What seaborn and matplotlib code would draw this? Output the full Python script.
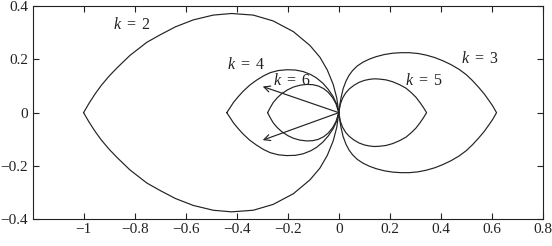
import matplotlib
matplotlib.use("Agg")
import matplotlib.pyplot as plt
import seaborn as sns
import pandas as pd

# Upper halves of the closed curves (curves are symmetric about y = 0)
k2_x = [-1.0, -0.978, -0.955, -0.930, -0.900, -0.870, -0.818, -0.752, -0.700, -0.640, -0.570,
        -0.492, -0.420, -0.335, -0.257, -0.178, -0.113, -0.074, -0.045, -0.022, -0.008, 0.0]
k2_y = [0.0, 0.036, 0.070, 0.103, 0.137, 0.167, 0.215, 0.264, 0.292, 0.322, 0.348,
        0.366, 0.372, 0.366, 0.344, 0.304, 0.252, 0.208, 0.160, 0.106, 0.055, 0.0]

k3_x = [0.0, 0.004, 0.009, 0.017, 0.028, 0.040, 0.054, 0.072, 0.094, 0.120, 0.146,
        0.178, 0.211, 0.243, 0.276, 0.310, 0.342, 0.375, 0.407, 0.440, 0.472, 0.500,
        0.524, 0.548, 0.570, 0.588, 0.603, 0.618]
k3_y = [0.0, 0.030, 0.057, 0.090, 0.118, 0.140, 0.158, 0.175, 0.189, 0.201, 0.210,
        0.218, 0.223, 0.225, 0.225, 0.222, 0.216, 0.207, 0.195, 0.180, 0.162, 0.142,
        0.120, 0.095, 0.070, 0.046, 0.025, 0.0]

k4_x = [-0.439, -0.425, -0.413, -0.394, -0.374, -0.348, -0.322, -0.295, -0.269, -0.237,
        -0.204, -0.170, -0.139, -0.110, -0.087, -0.062, -0.041, -0.022, -0.008, 0.0]
k4_y = [0.0, 0.020, 0.038, 0.060, 0.081, 0.104, 0.122, 0.138, 0.150, 0.158,
        0.161, 0.160, 0.154, 0.143, 0.130, 0.110, 0.087, 0.060, 0.031, 0.0]

k5_x = [0.0, 0.006, 0.015, 0.027, 0.041, 0.060, 0.080, 0.100, 0.120, 0.140, 0.159,
        0.185, 0.211, 0.238, 0.263, 0.284, 0.302, 0.318, 0.331, 0.344]
k5_y = [0.0, 0.032, 0.055, 0.074, 0.089, 0.103, 0.114, 0.121, 0.125, 0.127, 0.126,
        0.123, 0.116, 0.105, 0.092, 0.075, 0.058, 0.038, 0.020, 0.0]

k6_x = [-0.279, -0.268, -0.257, -0.241, -0.224, -0.200, -0.178, -0.152, -0.126, -0.102,
        -0.080, -0.059, -0.041, -0.024, -0.011, 0.0]
k6_y = [0.0, 0.020, 0.038, 0.056, 0.071, 0.086, 0.096, 0.103, 0.106, 0.105,
        0.100, 0.090, 0.076, 0.056, 0.033, 0.0]

curves = {"2": (k2_x, k2_y), "3": (k3_x, k3_y), "4": (k4_x, k4_y),
          "5": (k5_x, k5_y), "6": (k6_x, k6_y)}

label_k = ["2", "4", "6", "3", "5"]
label_x = [-0.886, -0.439, -0.259, 0.479, 0.260]
label_y = [0.328, 0.178, 0.119, 0.200, 0.117]

arrow_tip_x = [-0.298, -0.298]
arrow_tip_y = [0.098, -0.103]

x_ticks = [-1, -0.8, -0.6, -0.4, -0.2, 0, 0.2, 0.4, 0.6, 0.8]
x_ticklabels = ["\u22121", "\u22120.8", "\u22120.6", "\u22120.4", "\u22120.2", "0", "0.2", "0.4", "0.6", "0.8"]
y_ticks = [-0.4, -0.2, 0, 0.2, 0.4]
y_ticklabels = ["\u22120.4", "\u22120.2", "0", "0.2", "0.4"]

sns.set_style("ticks")
plt.rcParams["font.family"] = ["Liberation Serif", "DejaVu Serif"]
plt.rcParams["mathtext.fontset"] = "custom"
plt.rcParams["mathtext.rm"] = "Liberation Serif"
plt.rcParams["mathtext.it"] = "Liberation Serif:italic"

fig = plt.figure(figsize=(5.52, 2.46), dpi=100)
ax = fig.add_axes([0.0589, 0.1085, 0.9248, 0.867])

ink = "#222222"
for k, (xs, ys) in curves.items():
    xs = list(xs)
    ys = list(ys)
    full_x = xs + xs[::-1]
    full_y = ys + [-v for v in ys[::-1]]
    df = pd.DataFrame({"x": full_x, "y": full_y})
    sns.lineplot(data=df, x="x", y="y", sort=False, estimator=None,
                 color=ink, linewidth=0.85, ax=ax)

for tx, ty in zip(arrow_tip_x, arrow_tip_y):
    ax.annotate("", xy=(tx, ty), xytext=(0, 0),
                arrowprops=dict(arrowstyle="->", lw=0.85, color=ink,
                                shrinkA=0, shrinkB=0, mutation_scale=11))

for k, lx, ly in zip(label_k, label_x, label_y):
    ax.text(lx, ly, rf"$k\ =\ {k}$", ha="left", va="center", fontsize=11.5, color=ink)

ax.set_xlim(-1.2, 0.8)
ax.set_ylim(-0.4, 0.4)
ax.set_xticks(x_ticks)
ax.set_xticklabels(x_ticklabels)
ax.set_yticks(y_ticks)
ax.set_yticklabels(y_ticklabels)
ax.set_xlabel("")
ax.set_ylabel("")
ax.tick_params(direction="in", length=4, width=0.8, top=True, right=True,
               labelsize=11, colors=ink, pad=3)
for s in ax.spines.values():
    s.set_visible(True)
    s.set_linewidth(0.8)
    s.set_color(ink)

fig.savefig("out.png", dpi=100)
